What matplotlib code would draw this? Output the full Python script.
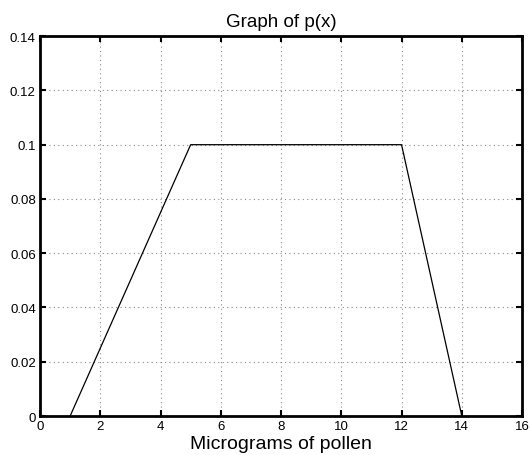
import numpy as np
import matplotlib.pyplot as plt

plt.rcParams['font.family'] = ['Liberation Sans', 'DejaVu Sans']

# Daten
x = [1, 5, 12, 14]
p = [0, 0.1, 0.1, 0]
xticks = np.arange(0, 17, 2)
yticks = [0, 0.02, 0.04, 0.06, 0.08, 0.1, 0.12, 0.14]
yticklabels = ['0', '0.02', '0.04', '0.06', '0.08', '0.1', '0.12', '0.14']

fig = plt.figure(figsize=(5.3, 4.56), dpi=100)
ax = fig.add_axes([0.0755, 0.0855, 0.9095, 0.833])

ax.plot(x, p, color='k', linewidth=0.9)

ax.set_xlim(0, 16)
ax.set_ylim(0, 0.14)
ax.set_xticks(xticks)
ax.set_yticks(yticks)
ax.set_yticklabels(yticklabels)
ax.tick_params(direction='in', top=True, right=True, length=4, width=1.5,
               labelsize=9.5, pad=3, colors='k')
for s in ax.spines.values():
    s.set_linewidth(2)

ax.grid(True, linestyle=(0, (1, 3)), color='#888888', linewidth=0.8)
ax.set_axisbelow(True)

ax.set_title('Graph of p(x)', fontsize=13.5, pad=7)
ax.set_xlabel('Micrograms of pollen', fontsize=14, labelpad=2)

fig.savefig('out.png', dpi=100)
